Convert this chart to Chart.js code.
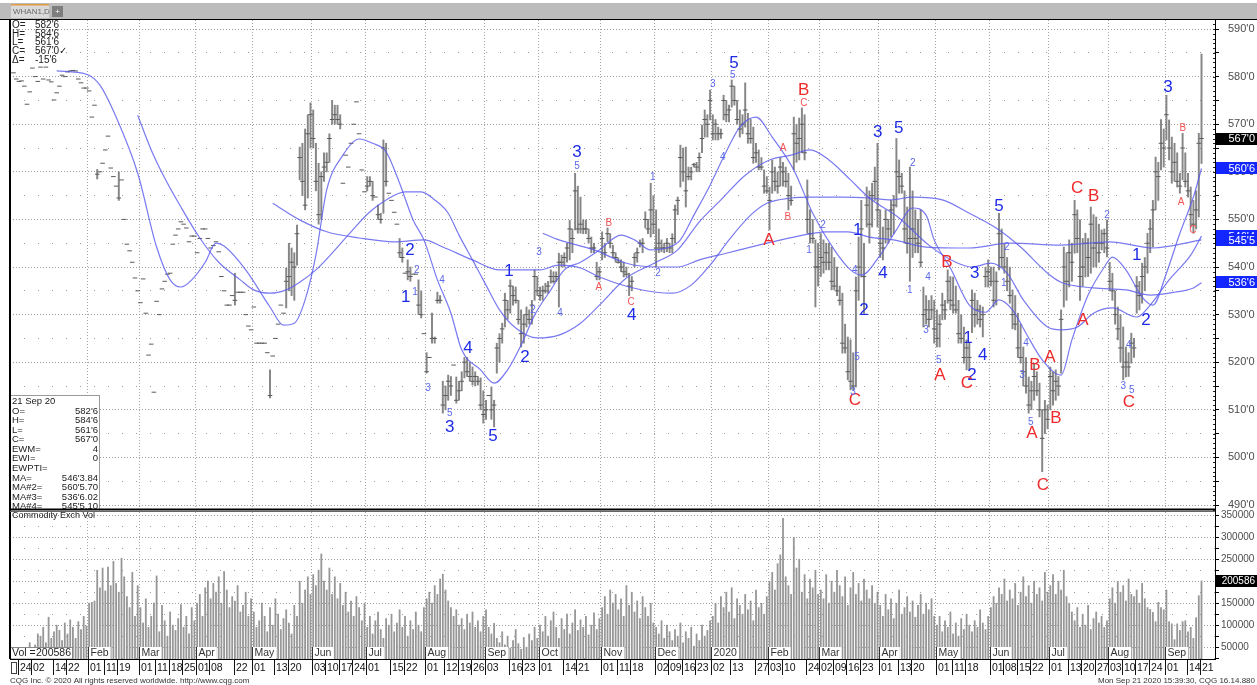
<!DOCTYPE html>
<html>
<head>
<meta charset="utf-8">
<title>WHAN1,D</title>
<script src="https://cdn.jsdelivr.net/npm/chart.js@4.4.1/dist/chart.umd.min.js"></script>
<style>
  html, body { margin: 0; padding: 0; background: #fff; overflow: hidden; }
  canvas { display: block; }
</style>
</head>
<body>
<canvas id="wheatChart" width="1257" height="685"></canvas>
<script>
// bar index of the first bar (20 Dec 2018); 24 Dec 2018 = 0, 21 Sep 2020 = 438
const firstIndex = -2;

// daily highs / lows (null = settlement-only day, drawn as a dash)
const highs = [
  null,null,null,null,null,null,null,null,null,null,          // -2..7
  null,null,null,null,null,null,null,null,null,null,          // 8..17
  null,null,null,null,null,null,null,null,null,null,          // 18..27
  null,560.5,null,null,null,null,null,null,null,560,          // 28..37
  null,null,null,null,null,null,null,null,null,null,          // 38..47
  null,null,null,null,null,null,null,null,null,null,          // 48..57
  null,null,null,null,null,null,null,null,null,null,          // 58..67
  null,null,null,null,null,null,null,null,null,null,          // 68..77
  null,null,538.7,null,null,null,null,null,null,null,         // 78..87
  null,null,null,null,null,518.4,null,null,null,null,         // 88..97
  null,                                                       // 98
  539.8,545,544,543,548.8,565.2,566,569,572,574.5,            // 99
  573,566,561.8,560,564,564,568,575,574,574,                  // 109
  572,null,null,null,null,null,null,null,null,null,           // 119
  559,559,558,null,553,551.3,566.7,566,null,null,             // 129
  null,null,546,544,null,541.5,540,null,null,537.3,           // 139
  535,null,522,null,530.3,525.3,534.7,534,516,515,            // 149
  517.3,517,null,516.9,516,518,521,521,520,519,               // 159
  518,517,516.7,514,512,null,514.8,512,524,526,               // 169
  528.2,534.5,533,537.3,536,535.8,533,531,530,531.6,          // 179
  531,533,539.4,538,535.8,536,536.6,537,539.4,539,            // 189
  539,542.9,542.5,543,545,549.8,548,559.7,557,554.7,          // 199
  549.9,549.9,548,546.3,545,541,540,547.4,545,548.2,          // 209
  547,544.6,543,541.9,541.5,541,540,538.7,538,542.9,          // 219
  544,545.7,546,551.6,550,557.6,555,552,548,545.7,            // 229
  545,546,545,547,553,554.7,565.6,565,565.2,561,              // 239
  561,561.8,562,564,569.8,573,572,577.2,572,571,              // 249
  569.4,569,576.1,575,574,579.3,578,575,573,572,              // 259
  578.7,572.3,571,569.4,566,564.6,563,560.4,559,556.8,        // 269
  562.5,561,560,563,562,561,559.7,557,571.5,570,              // 279
  571.3,573.4,572,558.3,552,550,545.7,545,547,545.7,          // 289
  545,545,544.2,542,540,536,534.5,528,525.3,524.7,            // 299
  522,537.9,546.3,554,545,556.8,556,557.6,561,566,            // 309
  552,548.4,552,550,554,555,567,562.5,559.7,556,              // 319
  552.6,561,556,552,550,552,535.8,534,533,534,                // 329
  533,531,530,534.5,533,539.4,538,537.9,536,533,              // 339
  530,527.4,524.7,524,535.2,534.5,533,532,531.6,540,          // 349
  541.5,540,540,539,551.3,548,545,542,540,535.2,              // 359
  534,530.3,528,523.2,521,516.9,516,519.8,518,515.6,          // 369
  509.9,512,511,519,518,518.4,517,531,544.2,543,              // 379
  545.7,545,554,552,549.9,546,547.1,546,552.6,551,            // 389
  550.5,549,547.8,548,549.9,541,538.7,535,531.6,530,          // 399
  527.4,523.2,522,526.1,525,538,537,540.8,542,547.1,          // 409
  550,554,563.1,562,571,569,576.1,570.9,567.3,566,            // 419
  564,559.7,568.1,564,559.7,556.8,554,556,568.1,584.75        // 429
];
const lows = [
  null,null,null,null,null,null,null,null,null,null,
  null,null,null,null,null,null,null,null,null,null,
  null,null,null,null,null,null,null,null,null,null,
  null,558.5,null,null,null,null,null,null,null,554,
  null,null,null,null,null,null,null,null,null,null,
  null,null,null,null,null,null,null,null,null,null,
  null,null,null,null,null,null,null,null,null,null,
  null,null,null,null,null,null,null,null,null,null,
  null,null,532,null,null,null,null,null,null,null,
  null,null,null,null,null,512.5,null,null,null,null,
  null,
  531.4,535,534,533,540.4,558.3,555,552,554.5,565,            // 99
  565,556,549,550,558,560,562,570,570,570,                    // 109
  569,null,null,null,null,null,null,null,null,null,           // 119
  556,557,554,null,550,549.2,551.3,557,null,null,             // 129
  null,null,542,541,null,537.3,537,null,null,530,             // 139
  529.3,null,517.7,null,524,524,532.4,532.4,509.3,510,        // 149
  512,513,null,511.4,512,514,516.7,517,516,515.2,             // 159
  515,515.2,510,507.2,508,null,508,506.4,517.7,520,           // 169
  524,527.4,529,530.3,532,532.4,528,523.2,524,527.4,          // 179
  528,528,533,534,533,533,534.5,534.5,536.6,536.6,            // 189
  537,531.6,540,540,541,541.5,543,547.8,547.1,547.1,          // 199
  547,547,545,543,543,537.3,537.3,541.5,542,545.3,            // 209
  544,542,541,540.8,539,537.9,538,534,535,540,                // 219
  541,544.2,543,548.2,547,546.3,547,540,543,543.2,            // 229
  543,543.2,543,543,545,551,556.8,558,552.6,558.3,            // 239
  558.3,561,560,560,564,567.3,567.3,570.9,566.7,566.7,        // 249
  566.7,567,570.9,570.5,570.5,573.6,574,570,567.3,568,        // 259
  569.4,566,566,561.8,562,560.4,560.4,555.5,555.5,547.8,      // 269
  555.5,556,555.5,557,557,556.8,552,553,560.4,562,            // 279
  562.5,564,562.5,547.1,545,545,531.6,536,538,538.7,          // 289
  539.4,539.4,535.2,535.2,534,532,521.9,521.9,516.3,514.2,    // 299
  514.2,514.8,533,537.9,530.3,548.4,545,548.4,554,548.4,      // 309
  542,541.5,545,545,546.3,547,552.6,555.5,555.5,545,          // 319
  542.9,537,542,543,543,540,527.4,528,527.4,529,              // 329
  524,523.2,523.2,528.9,529,532.4,531,530.3,530.3,524,        // 339
  524,519.8,518.4,518.4,526.2,527.4,528,527.4,525.3,535.8,    // 349
  535.8,536,531.6,532,539.4,540,538.7,535,532.4,527,          // 359
  526.8,521,519.8,515,513.5,509.3,510,512,513,508.5,          // 369
  497,505,506,510,511,512,513,517.7,531.6,533,                // 379
  535.8,537,542.9,543,533,536,537.9,538,538.7,540,            // 389
  540,541,543.6,543,542.1,535,533,528,524.7,520,              // 399
  516.3,516.9,517,519.8,521,530.3,531,532.4,535,538.7,        // 409
  543,544.2,552,554,560.4,561,566.7,562.5,557.6,558,          // 419
  556.8,555.5,558.3,556.8,554.7,548.4,547.1,548,550.5,561.75  // 429
];
const closes = [
  580.8,579.5,579,579.1,578,574.2,576.8,581.8,580,579,        // -2..7
  582,579.5,582,579.3,578.9,575.1,576.6,578,580.3,580,        // 8..17
  581,581.2,581.3,581.2,579.5,578.7,577.6,577.6,577,571.5,    // 18..27
  574,559.5,560,561.8,564.6,567.5,560.8,559,557,554.5,        // 28..37
  558.3,550,544.8,543.4,541,537.7,535,532.5,537.5,530.3,      // 38..47
  521.5,523.8,513.7,532.8,530,535.4,537,538.5,538.7,544.8,    // 48..57
  546.7,548,549.5,549,548.2,545.3,546.5,546.5,543,546,        // 58..67
  548,548,546,544,544.5,545.3,543.2,538,535,532,              // 68..77
  532,534,533,534.7,534.7,534.7,530,527.6,526.8,531.6,        // 78..87
  524,524,524,524,522,513,521.3,525,528,532,                  // 88..97
  530.3,                                                      // 98
  537,538,541,540,547,563,558,553,568,572,                    // 99
  567,558,551,559,561,562,567,571,572,571,                    // 109
  570,557.6,563.5,561,566,570,574.7,568,560.4,555.8,          // 119
  557,558,555,554.7,551,550,565,558,555.5,554,                // 129
  551.5,549,543,542,538.7,539,538,538.5,538.5,532,            // 139
  530,526,518,521,525,525,533,533,511,513,                    // 149
  516,515,519.4,512,514,516,520,518,517,516,                  // 159
  517,516,511,509,510,513,510,511,523,525,                    // 169
  527,533,531,536,534,533,529,526,528,530,                    // 179
  529,532,538,535,534,535,535,536,538,537,                    // 189
  538,541,541,542,544,548,546,556,548,549,                    // 199
  548,548,546,544,544,538,539,546,543,547,                    // 209
  545,543,542,541,540,539,538.5,536,537,542,                  // 219
  543,545,545,550,548,552,549,544,545,544,                    // 229
  544,545,544,546,552,554,563,560,556,559,                    // 239
  560,561.5,561,563,567,571,570,575,568,570,                  // 249
  568,568,575,572,573,578,575,571,569,570,                    // 259
  573,568,567,563,564,561,561,557,556,554,                    // 269
  560,558,557,561,560,558,555,554,568,566,                    // 279
  567,570,564,550,547,546,540,540,542,541,                    // 289
  543,541,537,536,535,533,524,523,518,516,                    // 299
  515,535,540,548,538,553,549,555,558,552,                    // 309
  545,544,550,548,552,553,560,559,557,548,                    // 319
  545,546,548,546,545,541,530,531,529,531,                    // 329
  527,525,528,532,531,537,533,532,531,526,                    // 339
  525,521,523,521,533,530,531,529,530,538,                    // 349
  539,537,533,537,547,542,540,537,534,530,                    // 359
  528,523,521,518,515,511,514,517,514,510,                    // 369
  504,510,508,517,514,516,515,529,540,537,                    // 379
  543,541,551,546,538,540,545,542,549,544,                    // 389
  545,543,545,547,544,537,535,530,527,523,                    // 399
  519,520,519,524,523,536,534,538,540,545,                    // 409
  548,552,560,559,566,565,572,565,560,562,                    // 419
  558,557,565,558,556,551,549,552,566,567                     // 429
];

// Commodity Exch Vol, thousands of contracts
const volumes = [
  20,28,15,35,25,45,60,40,55,80, 75,95,60,118,70,85,100,88,65,105, 80,112,95,70,108,90,120,98,   // Dec-Jan
  150,152,155,225,185,230,178,232,190,245,195,175,252,210,165,140,220,120,190,                   // Feb 19
  140,105,160,95,120,150,212,85,145,110,75,130,100,88,115,147,95,120,80,140,110,                 // Mar
  150,170,120,185,200,160,195,175,210,150,222,180,140,165,155,190,130,145,175,120,160,           // Apr
  130,95,110,150,120,85,140,100,160,125,90,115,135,105,80,145,120,200,150,180,210,170,           // May
  215,190,225,262,200,180,230,170,210,160,195,145,175,130,155,120,165,140,110,150,               // Jun
  95,120,80,110,130,90,70,115,100,125,85,105,135,95,120,75,110,90,130,100,85,140,                // Jul
  160,175,150,190,170,205,216,180,155,140,120,135,100,115,90,125,105,130,95,110,85,120,          // Aug
  135,95,80,104,70,60,85,55,75,48,65,90,58,45,72,50,80,65,95,70,                                 // Sep
  100,85,120,75,110,130,95,70,115,90,125,80,105,135,88,112,95,120,78,100,128,90,115,             // Oct
  140,165,125,180,150,170,135,160,120,190,145,175,130,155,115,165,140,120,150,105,               // Nov
  95,80,110,70,100,85,65,90,75,105,60,85,70,95,52,80,65,100,75,88,110,                           // Dec
  120,150,105,165,140,175,130,185,115,160,145,125,170,135,155,110,180,140,150,125,165,           // Jan 2020
  200,220,180,240,260,343,210,190,170,300,230,250,175,215,160,205,185,225,170,                   // Feb
  180,160,215,150,200,175,225,190,165,210,145,185,220,170,195,155,205,180,160,190,150,175,       // Mar
  145,120,170,135,160,115,150,180,125,140,165,130,155,118,145,170,125,150,135,160,120,           // Apr
  100,120,85,110,95,130,80,105,75,115,90,125,100,85,110,95,135,105,90,120,                       // May
  140,165,150,185,170,205,155,180,160,195,145,175,210,165,190,150,200,170,185,155,220,175,       // Jun
  190,215,170,200,180,225,165,150,130,110,140,95,125,100,145,90,115,130,105,120,95,110,          // Jul
  160,185,150,200,175,190,155,205,170,165,180,150,195,160,140,136,129,108,152,140,135,           // Aug
  180,108,103,67,103,88,108,110,85,95,70,117,167,200.586                                         // Sep
];

// moving averages: [bar index, price]
const maFast = [ // MA#2
  [14,581.2],[25,580.5],[30,578.2],[36,571.5],[44,559.7],[51,544.2],[56,537.3],[60,535.8],[64,537.3],
  [69,541],[73,545],[76,544.4],[84,539.4],[93,531.6],[98,527.8],[102,528.2],[106,533.1],[110,542.5],
  [114,556.2],[120,563.5],[126,566.9],[131,566],[136,564.2],[141,557.6],[146,549.9],[150,545.7],
  [155,537.3],[160,530.3],[164,522.6],[171,518.4],[176,515.6],[181,518.4],[186,523.6],[191,529.9],
  [197,535.2],[202,539.4],[208,541],[215,543.6],[223,546.7],[228,545.7],[234,543.6],[241,544.2],
  [245,545.7],[250,550.9],[256,557.2],[261,563.1],[267,569.4],[273,571.5],[279,567.3],[287,560.4],
  [294,551.3],[302,543.6],[308,539.4],[312,538.3],[319,542.5],[325,547.8],[331,552.4],[336,550.9],
  [339,545.7],[345,539.8],[352,532],[358,530.5],[363,533.1],[368,531],[373,526.1],[379,520.5],
  [386,517.3],[390,524.7],[396,534.1],[402,540],[405,542.1],[410,539.4],[416,533.7],[420,532],
  [425,538.7],[430,547.1],[435,554.7],[438,560.7]
];
const maMedium = [ // MA
  [44,571.9],[49,564.6],[54,558.7],[60,552.6],[67,546.1],[74,541],[82,537.3],[87,535.2],[93,534.5],
  [99,535.2],[104,536.8],[110,539.4],[115,542.3],[123,547.4],[130,551.6],[136,554.1],[143,555.8],
  [149,555.8],[154,554.1],[159,551.3],[163,546.7],[168,541.5],[173,536.2],[178,531],[184,527.2],
  [192,525.1],[200,525.7],[208,528.2],[215,532],[225,537.7],[236,541],[244,543.6],[252,549.5],
  [260,554.1],[269,559.3],[278,562.5],[286,563.5],[293,564.6],[300,562.5],[308,558.3],[315,554.5],
  [326,550.3],[337,544.6],[347,541],[353,540],[360,540.8],[366,538.7],[372,533.1],[381,527.4],
  [386,526.8],[392,527.4],[398,530.3],[405,531.4],[414,529.5],[419,532],[426,537.3],[434,542.5],
  [438,546.5]
];
const maSlow = [ // MA#3
  [94,553.4],[104,549.9],[114,547.4],[126,546.1],[139,545.3],[150,545.7],[157,544.2],[168,541.5],
  [178,539.4],[193,539.4],[200,540.4],[208,539.8],[215,537.9],[226,535.8],[236,534.7],[242,534.5],
  [249,536.2],[256,540.4],[263,545.7],[271,550.9],[277,553.4],[286,554.5],[293,554.7],[305,554.7],
  [315,554.5],[323,554.1],[331,554.7],[342,554.1],[352,551.3],[363,547.8],[371,544.2],[381,538.7],
  [386,536.8],[398,535.6],[410,535.2],[419,534.1],[428,534.7],[435,535.6],[438,536.7]
];
const maLong = [ // MA#4
  [194,547.1],[200,545.7],[213,543.6],[225,540.8],[236,540],[244,540],[252,541.5],[262,542.9],
  [274,544.6],[287,546.3],[299,547.4],[307,547.4],[315,546.3],[324,545.7],[336,544.2],[352,544],
  [367,545],[386,544.6],[404,545.3],[420,544],[438,545.7]
];

// Elliott wave marks: [text, bar index, price, kind]
const waveLabels = [
  ['1',143.3,533.7,'wave'],['2',144.8,543.6,'wave'],['3',159.6,506.4,'wave'],['4',166.3,523,'wave'],
  ['5',175.6,504.5,'wave'],['1',181.5,539.2,'wave'],['2',187.4,521.1,'wave'],['3',206.7,564,'wave'],
  ['4',227,529.9,'wave'],['5',264.8,582.9,'wave'],['1',310.7,547.8,'wave'],['2',313,531,'wave'],
  ['3',318.1,568.2,'wave'],['4',320,538.7,'wave'],['5',325.9,569.2,'wave'],['1',351.5,525.1,'wave'],
  ['2',353,517.3,'wave'],['3',354,538.7,'wave'],['4',357,521.5,'wave'],['5',363,552.8,'wave'],
  ['1',414,542.5,'wave'],['2',417.4,528.7,'wave'],['3',425.6,577.8,'wave'],
  ['A',277.8,545.7,'corr'],['B',290.7,577.2,'corr'],['C',309.6,512,'corr'],['A',341.1,517.3,'corr'],
  ['B',343.7,541,'corr'],['C',351.1,515.6,'corr'],['A',375.2,505.1,'corr'],['B',376.3,519.4,'corr'],
  ['C',379.3,494.2,'corr'],['A',381.9,521.1,'corr'],['B',384.1,508.3,'corr'],['C',391.9,556.6,'corr'],
  ['A',394.1,528.9,'corr'],['B',398.1,554.9,'corr'],['C',411.1,511.6,'corr'],
  ['1',146.7,534.7,'sub'],['2',147.4,539.4,'sub'],['4',156.7,537.3,'sub'],['3',151.5,514.6,'sub'],
  ['5',159.6,509.3,'sub'],['3',192.6,543,'sub'],['2',190.4,531,'sub'],['4',200.4,530.3,'sub'],
  ['5',206.7,561.2,'sub'],['1',234.8,558.9,'sub'],['2',236.7,538.7,'sub'],['3',257,578.4,'sub'],
  ['5',264.4,580.3,'sub'],['4',260.7,563.1,'sub'],['1',292.6,543.6,'sub'],['2',297.8,548.8,'sub'],
  ['5',310.4,521.1,'sub'],['3',308.9,513.7,'sub'],['4',309.6,539.4,'sub'],['2',331.1,561.8,'sub'],
  ['1',330,535.2,'sub'],['4',336.7,537.9,'sub'],['3',336,526.8,'sub'],['5',340.7,520.5,'sub'],
  ['1',364.8,536.6,'sub'],['2',365.9,544.2,'sub'],['4',373,524,'sub'],['3',371.5,517.3,'sub'],
  ['5',374.8,507.4,'sub'],['2',403,550.9,'sub'],['4',411.1,523.6,'sub'],['3',409,515,'sub'],
  ['5',412.2,514.2,'sub'],
  ['A',214.8,535.8,'subcorr'],['B',218.5,549.2,'subcorr'],['C',226.7,532.6,'subcorr'],
  ['A',283,565,'subcorr'],['B',284.8,550.5,'subcorr'],['C',290.7,574.5,'subcorr'],
  ['A',430.4,553.7,'subcorr'],['B',431.1,569.2,'subcorr'],['C',434.8,547.8,'subcorr']
];

// date axis
const dayTicks = [
  [0,'24'],[5,'02'],[13,'14'],[18,'22'],[26,'01'],[32,'11'],[37,'19'],[45,'01'],[51,'11'],[56,'18'],
  [61,'25'],[66,'01'],[71,'08'],[80,'22'],[87,'01'],[95,'13'],[100,'20'],[109,'03'],[114,'10'],
  [119,'17'],[124,'24'],[129,'01'],[138,'15'],[143,'22'],[151,'01'],[158,'12'],[163,'19'],[168,'26'],
  [173,'03'],[182,'16'],[187,'23'],[193,'01'],[202,'14'],[207,'21'],[216,'01'],[222,'11'],[227,'18'],
  [236,'02'],[241,'09'],[246,'16'],[251,'23'],[257,'02'],[264,'13'],[273,'27'],[278,'03'],[283,'10'],
  [292,'24'],[297,'02'],[302,'09'],[307,'16'],[312,'23'],[319,'01'],[326,'13'],[331,'20'],[340,'01'],
  [346,'11'],[351,'18'],[360,'01'],[365,'08'],[370,'15'],[375,'22'],[382,'01'],[389,'13'],[394,'20'],
  [399,'27'],[404,'03'],[409,'10'],[414,'17'],[419,'24'],[425,'01'],[433,'14'],[438,'21']
];
const monthTicks = [
  [26,'Feb'],[45,'Mar'],[66,'Apr'],[87,'May'],[109,'Jun'],[129,'Jul'],[151,'Aug'],[173,'Sep'],
  [193,'Oct'],[216,'Nov'],[236,'Dec'],[257,'2020'],[278,'Feb'],[297,'Mar'],[319,'Apr'],[340,'May'],
  [360,'Jun'],[382,'Jul'],[404,'Aug'],[425,'Sep']
];
const priceGrid = [490,495,500,505,510,515,520,525,530,535,540,545,550,555,560,565,570,575,580,585,590];
const volGrid = [25,50,75,100,125,150,175,200,225,250,275,300,325,350];

// read-outs
const headerLines = [['O=',"582'6"],['H=',"584'6"],['L=',"561'6"],['C=',"567'0\u2713"],['\u0394=',"-15'6"]];
const infoLines = [
  ['21 Sep 20',''],['O=',"582'6"],['H=',"584'6"],['L=',"561'6"],['C=',"567'0"],['EWM=','4'],['EWI=','0'],
  ['EWPTI=',''],['MA=',"546'3.84"],['MA#2=',"560'5.70"],['MA#3=',"536'6.02"],['MA#4=',"545'5.10"]
];
const axisTags = [
  ["546'4", 546.48, 'ma'], ["545'5", 545.64, 'ma'], ["536'6", 536.75, 'ma'],
  ["560'6", 560.71, 'ma'], ["567'0", 567, 'last']
];

const FONT = "'Liberation Sans', Arial, sans-serif";

const priceBars = [];
const closeTicks = [];
for (let k = 0; k < closes.length; k++) {
  const i = firstIndex + k;
  if (highs[k] !== null) priceBars.push({ x: i, y: [lows[k], highs[k]] });
  closeTicks.push({ x: i, y: closes[k] });
}
const volBars = volumes.map((v, k) => ({ x: firstIndex + k, y: v }));
const toPts = arr => arr.map(p => ({ x: p[0], y: p[1] }));

const maStyle = {
  type: 'line', yAxisID: 'y', borderColor: 'rgba(88,88,238,0.8)', borderWidth: 1.2,
  pointRadius: 0, cubicInterpolationMode: 'monotone', fill: false, order: 1
};

function gridDash(step) {
  return ctx => (ctx.tick && ctx.tick.value % step !== 0) ? [1, 13] : [1, 2];
}

const cqgChrome = {
  id: 'cqgChrome',
  beforeDraw(c) {
    const ctx = c.ctx;
    ctx.save();
    ctx.fillStyle = '#fff';
    ctx.fillRect(0, 0, c.width, c.height);
    ctx.fillStyle = '#bcbcbc';
    ctx.fillRect(0, 3, c.width, 16);
    ctx.fillStyle = '#dadada';
    ctx.fillRect(11, 5, 38, 13);
    ctx.fillStyle = '#e39a45';
    ctx.fillRect(11, 4, 38, 1.5);
    ctx.fillStyle = '#7d7d7d';
    ctx.fillRect(52, 6, 11, 11);
    ctx.font = '8px ' + FONT;
    ctx.textBaseline = 'middle';
    ctx.fillStyle = '#6a6a6a';
    ctx.fillText('WHAN1,D', 13, 11.5);
    ctx.fillStyle = '#fff';
    ctx.textAlign = 'center';
    ctx.fillText('+', 57.5, 11.5);
    ctx.restore();
  },
  afterDatasetsDraw(c) {
    const ctx = c.ctx, xs = c.scales.x, yp = c.scales.y, yv = c.scales.vol, ca = c.chartArea;
    ctx.save();

    // wave labels
    ctx.textAlign = 'center';
    ctx.textBaseline = 'middle';
    const styles = {
      wave: ['17px', '#1e2be6'], corr: ['17px', '#ee2a2a'],
      sub: ['10px', '#5b68ea'], subcorr: ['10px', '#f25353']
    };
    waveLabels.forEach(([t, i, p, kind]) => {
      const st = styles[kind];
      ctx.font = st[0] + ' ' + FONT;
      ctx.fillStyle = st[1];
      ctx.fillText(t, xs.getPixelForValue(i), yp.getPixelForValue(p));
    });

    // header read-out
    ctx.textAlign = 'left';
    ctx.font = '10px ' + FONT;
    ctx.fillStyle = '#222';
    headerLines.forEach((l, n) => {
      const y = ca.top + 5 + n * 8.8;
      ctx.fillText(l[0], 12, y);
      ctx.fillText(l[1], 35, y);
    });

    // info box
    const bx = 10.5, by = 395.5, bw = 89, bh = yp.bottom - 396;
    ctx.fillStyle = '#fff';
    ctx.fillRect(bx, by, bw, bh);
    ctx.strokeStyle = '#9a9a9a';
    ctx.lineWidth = 1;
    ctx.strokeRect(bx, by, bw, bh);
    ctx.fillStyle = '#222';
    ctx.font = '9.5px ' + FONT;
    infoLines.forEach((l, n) => {
      const y = by + 6 + n * 9.55;
      ctx.textAlign = 'left';
      ctx.fillText(l[0], 12, y);
      ctx.textAlign = 'right';
      ctx.fillText(l[1], 98, y);
    });

    // volume panel title
    ctx.textAlign = 'left';
    ctx.font = '9px ' + FONT;
    ctx.fillStyle = '#222';
    ctx.fillText('Commodity Exch Vol', 12, yv.top + 6);

    // month labels inside volume panel
    ctx.font = '10.5px ' + FONT;
    monthTicks.forEach(([i, t]) => {
      const x = Math.round(xs.getPixelForValue(i - 0.5)) + 0.5;
      const w = ctx.measureText(t).width + 4;
      ctx.fillStyle = '#fff';
      ctx.fillRect(x, ca.bottom - 12, w, 12);
      ctx.fillStyle = '#333';
      ctx.fillRect(x - 0.5, ca.bottom - 12, 1, 12);
      ctx.fillText(t, x + 2, ca.bottom - 5.5);
    });

    // Vol read-out box
    ctx.fillStyle = '#fff';
    ctx.fillRect(10.5, ca.bottom - 12, 62, 12);
    ctx.strokeStyle = '#888';
    ctx.strokeRect(10.5, ca.bottom - 11.5, 62, 11.5);
    ctx.fillStyle = '#222';
    ctx.textAlign = 'left';
    ctx.fillText('Vol =', 12, ca.bottom - 5.5);
    ctx.textAlign = 'right';
    ctx.fillText(String(Math.round(volumes[volumes.length - 1] * 1000)), 71, ca.bottom - 5.5);

    // frame lines
    ctx.fillStyle = '#000';
    ctx.fillRect(9, ca.top, 2, ca.bottom - ca.top);
    ctx.fillRect(0, ca.top - 1, c.width, 1);
    ctx.fillRect(10, yp.bottom - 1.5, ca.right - 10, 2);
    ctx.fillStyle = '#666';
    ctx.fillRect(10, yp.bottom + 1, ca.right - 10, 1);
    ctx.fillStyle = '#000';
    ctx.fillRect(10, ca.bottom, ca.right - 10, 1);
    ctx.restore();
  },
  afterDraw(c) {
    const ctx = c.ctx, xs = c.scales.x, yp = c.scales.y, yv = c.scales.vol, ca = c.chartArea;
    ctx.save();

    // ruler marks on the price axis
    ctx.fillStyle = '#222';
    for (let p = 489; p <= 591; p++) {
      ctx.fillRect(ca.right - 2, Math.round(yp.getPixelForValue(p)), 2, 1);
    }

    // tags on the right axis
    ctx.font = '11px ' + FONT;
    ctx.textAlign = 'right';
    ctx.textBaseline = 'middle';
    axisTags.forEach(([t, v, kind]) => {
      const y = yp.getPixelForValue(v);
      ctx.fillStyle = kind === 'last' ? '#000' : '#1426ff';
      ctx.fillRect(ca.right + 1, Math.round(y) - 6, c.width - ca.right - 1, 12);
      ctx.fillStyle = '#fff';
      ctx.fillText(t, c.width - 2, y + 0.5);
    });
    const lastVol = volumes[volumes.length - 1];
    const vy = yv.getPixelForValue(lastVol);
    ctx.font = '10px ' + FONT;
    ctx.fillStyle = '#000';
    ctx.fillRect(ca.right + 1, Math.round(vy) - 6, c.width - ca.right - 1, 12);
    ctx.fillStyle = '#fff';
    ctx.fillText(String(Math.round(lastVol * 1000)), c.width - 2, vy + 0.5);

    // date row
    ctx.font = '10.5px ' + FONT;
    ctx.textAlign = 'left';
    ctx.fillStyle = '#111';
    dayTicks.forEach(([i, t]) => {
      const x = Math.round(xs.getPixelForValue(i - 0.5));
      ctx.fillRect(x, ca.bottom + 1, 1, 15);
      ctx.fillText(t, x + 2, ca.bottom + 9);
    });
    ctx.fillStyle = '#fff';
    ctx.fillRect(11, ca.bottom + 3, 5, 12);
    ctx.strokeStyle = '#444';
    ctx.strokeRect(11.5, ca.bottom + 3.5, 5, 11);

    // footer
    ctx.font = '8px ' + FONT;
    ctx.fillStyle = '#333';
    ctx.textAlign = 'left';
    ctx.fillText('CQG Inc. \u00a9 2020 All rights reserved worldwide. http://www.cqg.com', 10, c.height - 4);
    ctx.textAlign = 'right';
    ctx.fillText('Mon Sep 21 2020 15:39:30, CQG 16.14.880', c.width - 2, c.height - 4);
    ctx.restore();
  }
};

new Chart(document.getElementById('wheatChart'), {
  type: 'bar',
  data: {
    datasets: [
      { ...maStyle, label: 'MA#2', data: toPts(maFast) },
      { ...maStyle, label: 'MA', data: toPts(maMedium) },
      { ...maStyle, label: 'MA#3', data: toPts(maSlow) },
      { ...maStyle, label: 'MA#4', data: toPts(maLong) },
      {
        type: 'line', label: 'Close', data: closeTicks, yAxisID: 'y', showLine: false,
        pointStyle: 'line', pointRadius: 2.3, pointBorderColor: '#5a5a5a', pointBorderWidth: 1,
        pointHoverRadius: 0, order: 2
      },
      {
        type: 'bar', label: 'WHAN1', data: priceBars, yAxisID: 'y', backgroundColor: '#868686',
        barThickness: 1.3, grouped: false, order: 3
      },
      {
        type: 'bar', label: 'Vol', data: volBars, yAxisID: 'vol', backgroundColor: '#979797',
        barThickness: 1.15, grouped: false, order: 3
      }
    ]
  },
  options: {
    responsive: false,
    animation: false,
    events: [],
    devicePixelRatio: 1,
    layout: { padding: { top: 20, left: 10, right: 0, bottom: 26 } },
    plugins: { legend: { display: false }, tooltip: { enabled: false } },
    scales: {
      x: {
        type: 'linear', min: -3.3, max: 443, offset: false,
        afterBuildTicks: s => { s.ticks = monthTicks.map(m => ({ value: m[0] - 0.5 })); },
        afterFit: s => { s.height = 0; },
        ticks: { display: false },
        grid: { color: '#a4a4a4', lineWidth: 1, drawTicks: false, offset: false },
        border: { display: false, dash: [1, 2] }
      },
      y: {
        type: 'linear', position: 'right', stack: 'panels', stackWeight: 490,
        min: 488.95, max: 591.9,
        afterBuildTicks: s => { s.ticks = priceGrid.map(v => ({ value: v })); },
        afterFit: s => { s.width = 42; },
        ticks: {
          autoSkip: false, padding: 9, color: '#4d4d4d', font: { size: 11, family: FONT },
          callback: v => (v % 10 === 0 ? v + "'0" : '')
        },
        grid: { color: '#9c9c9c', tickColor: '#000', tickLength: 4 },
        border: { display: true, color: '#000', width: 1, dash: gridDash(10) }
      },
      vol: {
        type: 'linear', position: 'right', stack: 'panels', stackWeight: 149,
        min: 23, max: 362,
        afterBuildTicks: s => { s.ticks = volGrid.map(v => ({ value: v })); },
        afterFit: s => { s.width = 42; },
        ticks: {
          autoSkip: false, padding: 2, color: '#4d4d4d', font: { size: 10, family: FONT },
          callback: v => (v % 50 === 0 ? String(v * 1000) : '')
        },
        grid: { color: '#9c9c9c', tickColor: '#000', tickLength: 4 },
        border: { display: true, color: '#000', width: 1, dash: gridDash(50) }
      }
    }
  },
  plugins: [cqgChrome]
});
</script>
</body>
</html>
